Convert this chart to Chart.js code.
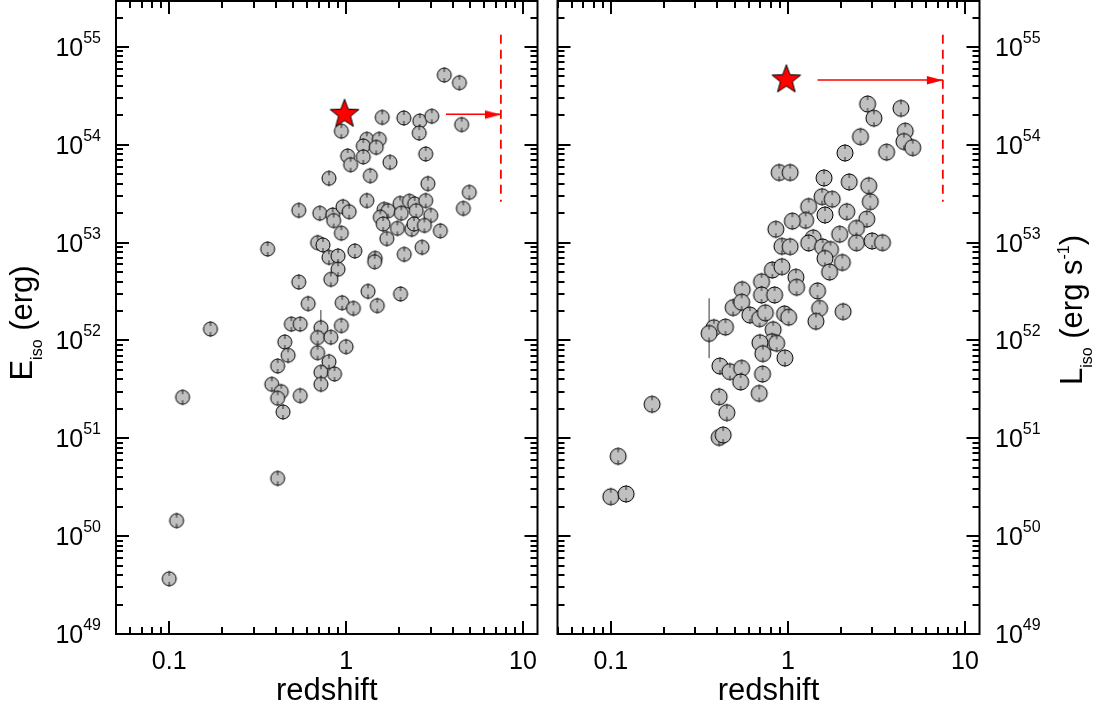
<!DOCTYPE html>
<html><head><meta charset="utf-8">
<script src="https://cdn.jsdelivr.net/npm/chart.js@4.4.0/dist/chart.umd.min.js"></script>
<style>
html,body{margin:0;padding:0;background:#fff;}
#wrap{position:relative;width:1099px;height:712px;overflow:hidden;}
canvas{position:absolute;left:0;top:0;}
</style></head><body>
<div id="wrap"><canvas id="c1" width="1099" height="712"></canvas><canvas id="c2" width="1099" height="712"></canvas></div>
<script>
// ---------- data ----------
const leftZ = [3.59,4.37,1.60,2.12,2.61,3.05,4.50,0.94,2.59,1.31,1.54,1.25,1.48,1.02,1.25,1.06,1.77,2.82,0.80,1.37,
  2.90,4.97,4.60,1.31,0.54,0.71,0.84,0.96,1.04,0.85,0.94,1.64,1.73,2.02,2.28,2.44,2.82,2.05,2.49,3.01,
  1.56,1.62,1.95,2.35,2.42,2.77,3.41,1.70,0.36,0.69,0.74,0.80,0.90,0.90,1.12,1.46,1.45,2.13,2.69,0.82,
  0.54,1.33,2.03,0.61,0.95,1.10,1.50,0.49,0.55,0.72,0.94,0.45,0.69,0.82,1.00,0.47,0.69,0.41,0.80,0.72,
  0.86,0.38,0.43,0.41,0.55,0.72,0.44,0.41,0.119,0.110,0.100,0.171];
const leftE = [5.17e54,4.31e54,1.91e54,1.88e54,1.75e54,1.96e54,1.61e54,1.38e54,1.32e54,1.14e54,1.14e54,9.73e53,9.43e53,7.69e53,7.52e53,6.26e53,6.63e53,8.06e53,4.55e53,4.83e53,
  4.01e53,3.27e53,2.24e53,2.69e53,2.14e53,2.0e53,1.92e53,2.33e53,2.07e53,1.68e53,1.25e53,2.19e53,2.12e53,2.52e53,2.65e53,2.49e53,2.69e53,2.0e53,2.12e53,1.90e53,
  1.82e53,1.55e53,1.40e53,1.37e53,1.55e53,1.50e53,1.32e53,1.10e53,8.61e52,1.0e53,9.47e52,7.08e52,7.31e52,5.35e52,8.22e52,6.92e52,6.38e52,7.6e52,8.97e52,4.22e52,
  3.96e52,3.18e52,2.99e52,2.38e52,2.43e52,2.13e52,2.27e52,1.47e52,1.47e52,1.35e52,1.42e52,9.66e51,1.07e52,1.08e52,8.64e51,7.06e51,7.5e51,5.48e51,6.07e51,4.73e51,
  4.54e51,3.57e51,3.0e51,2.57e51,2.73e51,3.57e51,1.86e51,3.9e50,2.63e51,1.44e50,3.67e49,1.31e52];

const rightZ = [2.82,4.35,3.06,2.57,4.60,4.52,5.07,3.61,2.10,0.893,1.03,1.60,2.22,2.86,2.92,1.56,1.78,1.31,1.62,2.15,
  2.79,1.26,1.06,0.855,2.44,1.96,1.39,1.31,0.925,1.03,2.44,2.99,3.42,1.57,1.74,1.62,2.03,1.72,0.817,0.925,
  1.11,1.12,0.710,0.552,0.710,0.841,1.47,0.491,0.548,0.610,0.692,0.746,0.957,1.01,1.51,2.05,1.44,0.826,0.814,0.695,
  0.382,0.359,0.444,0.864,0.722,0.962,0.413,0.470,0.548,0.541,0.719,0.689,0.409,0.452,0.409,0.431,0.171,0.110,0.100,0.122];
const rightL = [2.61e54,2.36e54,1.87e54,1.21e54,1.38e54,1.08e54,9.35e53,8.41e53,8.25e53,5.21e53,5.21e53,4.58e53,4.17e53,3.82e53,2.62e53,2.95e53,2.78e53,2.34e53,1.92e53,2.07e53,
  1.74e53,1.69e53,1.66e53,1.37e53,1.40e53,1.22e53,1.12e53,9.93e52,9.18e52,9.10e52,9.97e52,1.04e53,1.0e53,9.03e52,8.51e52,6.89e52,6.27e52,5.01e52,5.26e52,5.68e52,
  4.43e52,3.50e52,3.99e52,3.31e52,2.92e52,2.92e52,3.21e52,2.17e52,2.46e52,1.82e52,1.67e52,1.92e52,1.87e52,1.73e52,2.13e52,1.97e52,1.57e52,1.29e52,9.72e51,9.49e51,
  1.35e52,1.18e52,1.37e52,9.36e51,7.34e51,6.62e51,5.48e51,4.80e51,5.20e51,3.77e51,4.54e51,2.88e51,2.66e51,1.83e51,1.02e51,1.08e51,2.23e51,6.55e50,2.53e50,2.70e50];

// a few long error bars that stick out of the markers
const leftBarZ = [0.72];
const leftBarLo = [1.1e52];
const leftBarHi = [2.05e52];
const rightBarZ = [0.359];
const rightBarLo = [6.6e51];
const rightBarHi = [2.7e52];

const starZ = [0.98];
const starE = [2.13e54];
const starL = [4.79e54];
const arrowZLeft = [3.67, 7.5];
const arrowELeft = [2.05e54, 2.05e54];
const arrowZRight = [1.47, 7.5];
const arrowLRight = [4.6e54, 4.6e54];
const limitZ = [7.5, 7.5];
const limitY = [1.33e55, 2.62e53];

const xTickLabels = [[0.1,'0.1'],[1,'1'],[10,'10']];
const yTickExps = [49,50,51,52,53,54,55];

// ---------- styles ----------
const FONT = '"Liberation Sans", Arial, sans-serif';
function makeCircle(r) {
  const s = 2*r + 6, c = document.createElement('canvas');
  c.width = s; c.height = s;
  const g = c.getContext('2d'), m = s/2;
  g.beginPath(); g.arc(m, m, r, 0, Math.PI*2);
  g.fillStyle = '#c0c0c0'; g.fill();
  g.lineWidth = 1; g.strokeStyle = '#000'; g.stroke();
  g.strokeStyle = '#222'; g.lineWidth = 1;
  g.beginPath(); g.moveTo(m, m - r - 1); g.lineTo(m, m - r + 4);
  g.moveTo(m, m + r - 4); g.lineTo(m, m + r + 1); g.stroke();
  return c;
}
function makeStar(R) {
  const s = 2*R + 4, c = document.createElement('canvas');
  c.width = s; c.height = s;
  const g = c.getContext('2d'), m = s/2, r = R*0.42;
  g.beginPath();
  for (let i = 0; i < 10; i++) {
    const a = -Math.PI/2 + i*Math.PI/5, rr = i%2 ? r : R;
    const px = m + rr*Math.cos(a), py = m + 1.5 + rr*Math.sin(a);
    i ? g.lineTo(px, py) : g.moveTo(px, py);
  }
  g.closePath(); g.fillStyle = '#ff0000'; g.fill();
  g.lineWidth = 1; g.strokeStyle = '#000'; g.stroke();
  return c;
}
function makeArrowHead(L, h) {
  const c = document.createElement('canvas');
  c.width = 2*L + 2; c.height = 2*h + 4;
  const g = c.getContext('2d'), cx = L + 1, cy = h + 2;
  g.beginPath(); g.moveTo(cx - L, cy - h); g.lineTo(cx, cy); g.lineTo(cx - L, cy + h); g.closePath();
  g.fillStyle = '#ff0000'; g.fill();
  return c;
}

function pts(xs, ys) { return xs.map((x, i) => ({x, y: ys[i]})); }

function drawSup(ctx, base, exp, x, y, align, F, FS) {
  ctx.font = F + 'px ' + FONT;
  const wb = ctx.measureText(base).width;
  ctx.font = FS + 'px ' + FONT;
  const we = ctx.measureText(exp).width;
  const x0 = align === 'right' ? x - wb - we : x;
  ctx.textAlign = 'left'; ctx.textBaseline = 'alphabetic';
  ctx.font = F + 'px ' + FONT;
  ctx.fillText(base, x0, y + 0.36*F);
  ctx.font = FS + 'px ' + FONT;
  ctx.fillText(exp, x0 + wb, y - 4);
}
function drawRich(ctx, segs, cx, cy) {
  ctx.save();
  ctx.translate(cx, cy); ctx.rotate(-Math.PI/2);
  ctx.textAlign = 'left'; ctx.textBaseline = 'alphabetic';
  let tot = 0;
  segs.forEach(s => { ctx.font = s[1] + 'px ' + FONT; s.w = ctx.measureText(s[0]).width; tot += s.w; });
  let x = -tot/2;
  segs.forEach(s => { ctx.font = s[1] + 'px ' + FONT; ctx.fillText(s[0], x, s[2]); x += s.w; });
  ctx.restore();
}

function axesPlugin(side) {
  return {
    id: 'axes_' + side,
    afterDraw(chart) {
      const ctx = chart.ctx, a = chart.chartArea, xs = chart.scales.x, ys = chart.scales.y;
      ctx.save();
      ctx.strokeStyle = '#000'; ctx.fillStyle = '#000'; ctx.lineWidth = 2;
      ctx.strokeRect(a.left, a.top, a.right - a.left, a.bottom - a.top);
      ctx.beginPath();
      for (let k = -2; k <= 1; k++) for (let m = 1; m <= 9; m++) {
        const v = m * Math.pow(10, k);
        if (v < xs.min * 0.999 || v > xs.max) continue;
        const px = Math.round(xs.getPixelForValue(v));
        const len = m === 1 ? 13 : 7;
        ctx.moveTo(px, a.bottom); ctx.lineTo(px, a.bottom - len);
        ctx.moveTo(px, a.top); ctx.lineTo(px, a.top + len);
      }
      for (let k = 48; k <= 55; k++) for (let m = 1; m <= 9; m++) {
        const v = m * Math.pow(10, k);
        if (v < ys.min * 0.999 || v > ys.max) continue;
        const py = Math.round(ys.getPixelForValue(v));
        const len = m === 1 ? 13 : 7;
        ctx.moveTo(a.left, py); ctx.lineTo(a.left + len, py);
        ctx.moveTo(a.right, py); ctx.lineTo(a.right - len, py);
      }
      ctx.stroke();
      ctx.font = '25px ' + FONT; ctx.textAlign = 'center'; ctx.textBaseline = 'alphabetic';
      xTickLabels.forEach(([v, t]) => ctx.fillText(t, xs.getPixelForValue(v), 669));
      yTickExps.forEach(e => {
        const py = ys.getPixelForValue(Math.pow(10, e));
        if (side === 'left') drawSup(ctx, '10', String(e), 101, py, 'right', 25, 16);
        else drawSup(ctx, '10', String(e), 995, py, 'left', 25, 16);
      });
      ctx.font = '31px ' + FONT; ctx.textAlign = 'center';
      ctx.fillText('redshift', (a.left + a.right)/2, 700);
      if (side === 'left') {
        drawRich(ctx, [['E',31,0],['iso',16,10],[' (erg)',31,0]], 32, 323);
      } else {
        drawRich(ctx, [['L',31,0],['iso',16,10],[' (erg s',31,0],['-1',16,-13],[')',31,0]], 1082, 310);
      }
      ctx.restore();
    }
  };
}

function makeChart(id, side, zs, ys, sZ, sY, arZ, arY, r, bZ, bLo, bHi) {
  const pad = side === 'left'
    ? {left:116, right:1099-537.5, top:1, bottom:78}
    : {left:557.5, right:1099-979.5, top:1, bottom:78};
  const bars = bZ.map((z, i) => ({
    data: [{x: z, y: bLo[i]}, {x: z, y: bHi[i]}], showLine: true,
    borderColor: '#333', borderWidth: 1, pointRadius: 0, fill: false
  }));
  return new Chart(document.getElementById(id), {
    type: 'scatter',
    data: { datasets: [
      { data: pts(sZ, sY), pointStyle: makeStar(15), pointRadius: 15 },
      { data: [{x: arZ[1], y: arY[1]}], pointStyle: makeArrowHead(16, 4.3), pointRadius: 8 },
      { data: pts(arZ, arY), showLine: true, borderColor: '#ff0000', borderWidth: 1.5, pointRadius: 0, fill: false },
      { data: pts(limitZ, limitY), showLine: true, borderColor: '#ff0000', borderWidth: 1.8, borderDash: [9, 6], pointRadius: 0, fill: false },
      { data: pts(zs, ys), pointStyle: makeCircle(r), pointRadius: r }
    ].concat(bars)},
    options: {
      responsive: false, animation: false, devicePixelRatio: 1, events: [],
      layout: { padding: pad, autoPadding: false },
      plugins: { legend: {display: false}, tooltip: {enabled: false}, title: {display: false} },
      scales: {
        x: { type: 'logarithmic', min: 0.05, max: 12.08, display: false },
        y: { type: 'logarithmic', min: 1e49, max: Math.pow(10, 55.47), display: false }
      }
    },
    plugins: [axesPlugin(side)]
  });
}

makeChart('c1', 'left', leftZ, leftE, starZ, starE, arrowZLeft, arrowELeft, 7, leftBarZ, leftBarLo, leftBarHi);
makeChart('c2', 'right', rightZ, rightL, starZ, starL, arrowZRight, arrowLRight, 8, rightBarZ, rightBarLo, rightBarHi);
</script>
</body></html>
